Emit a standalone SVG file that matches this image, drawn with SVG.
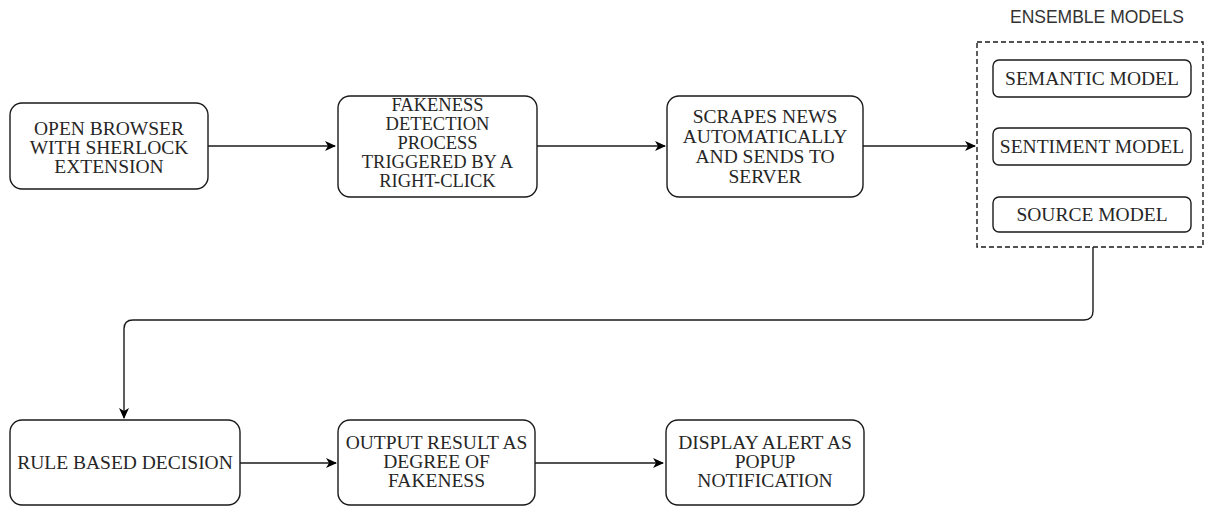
<svg xmlns="http://www.w3.org/2000/svg" width="1205" height="506" viewBox="0 0 1205 506">
<style>
.box{fill:#fff;stroke:#1a1a1a;stroke-width:1.4}
.t{font-family:"Liberation Serif","Times New Roman",serif;font-size:19.5px;fill:#262626;text-anchor:middle}
.t2{font-size:18.5px}
.title{font-family:"Liberation Sans",Arial,sans-serif;font-size:17.5px;fill:#333;text-anchor:middle}
.c{fill:none;stroke:#1a1a1a;stroke-width:1.4}
</style>
<defs>
<marker id="arr" markerWidth="12" markerHeight="10" refX="10" refY="5" orient="auto" markerUnits="userSpaceOnUse">
<path d="M0,0 L11,5 L0,10 L3,5 Z" fill="#000"/>
</marker>
</defs>
<rect x="0" y="0" width="1205" height="506" fill="#fff"/>
<g id="connectors">
<path class="c" d="M208,146 L335,146" marker-end="url(#arr)"/>
<path class="c" d="M537,146 L665,146" marker-end="url(#arr)"/>
<path class="c" d="M863,146 L975,146" marker-end="url(#arr)"/>
<path class="c" d="M1093,247 L1093,311 Q1093,320 1084,320 L133,320 Q124,320 124,329 L124,418" marker-end="url(#arr)"/>
<path class="c" d="M240,463 L336,463" marker-end="url(#arr)"/>
<path class="c" d="M535,463 L663,463" marker-end="url(#arr)"/>
</g>
<g id="n1">
<rect class="box" x="10" y="103" width="198" height="86" rx="12"/>
<text class="t"><tspan x="109" y="135">OPEN BROWSER</tspan><tspan x="109" y="154">WITH SHERLOCK</tspan><tspan x="109" y="173">EXTENSION</tspan></text>
</g>
<g id="n2">
<rect class="box" x="338" y="96" width="199" height="101" rx="12"/>
<text class="t t2"><tspan x="437.5" y="111">FAKENESS</tspan><tspan x="437.5" y="130">DETECTION</tspan><tspan x="437.5" y="149">PROCESS</tspan><tspan x="437.5" y="168">TRIGGERED BY A</tspan><tspan x="437.5" y="187">RIGHT-CLICK</tspan></text>
</g>
<g id="n3">
<rect class="box" x="667" y="96" width="196" height="101" rx="12"/>
<text class="t"><tspan x="765" y="123">SCRAPES NEWS</tspan><tspan x="765" y="143">AUTOMATICALLY</tspan><tspan x="765" y="163">AND SENDS TO</tspan><tspan x="765" y="183">SERVER</tspan></text>
</g>
<g id="ensemble">
<rect x="977" y="42" width="226" height="205" fill="none" stroke="#1a1a1a" stroke-width="1.4" stroke-dasharray="5 3"/>
<text class="title" x="1097" y="23">ENSEMBLE MODELS</text>
</g>
<g id="semantic">
<rect class="box" x="993" y="60" width="198" height="37" rx="6"/>
<text class="t" x="1092" y="85">SEMANTIC MODEL</text>
</g>
<g id="sentiment">
<rect class="box" x="993" y="128" width="198" height="37" rx="6"/>
<text class="t" x="1092" y="153">SENTIMENT MODEL</text>
</g>
<g id="source">
<rect class="box" x="993" y="197" width="198" height="35" rx="6"/>
<text class="t" x="1092" y="221">SOURCE MODEL</text>
</g>
<g id="n4">
<rect class="box" x="10" y="420" width="230" height="85" rx="12"/>
<text class="t" x="125" y="469">RULE BASED DECISION</text>
</g>
<g id="n5">
<rect class="box" x="338" y="420" width="197" height="85" rx="12"/>
<text class="t"><tspan x="436.5" y="449">OUTPUT RESULT AS</tspan><tspan x="436.5" y="468">DEGREE OF</tspan><tspan x="436.5" y="487">FAKENESS</tspan></text>
</g>
<g id="n6">
<rect class="box" x="666" y="420" width="198" height="85" rx="12"/>
<text class="t"><tspan x="765" y="449">DISPLAY ALERT AS</tspan><tspan x="765" y="468">POPUP</tspan><tspan x="765" y="487">NOTIFICATION</tspan></text>
</g>
</svg>
